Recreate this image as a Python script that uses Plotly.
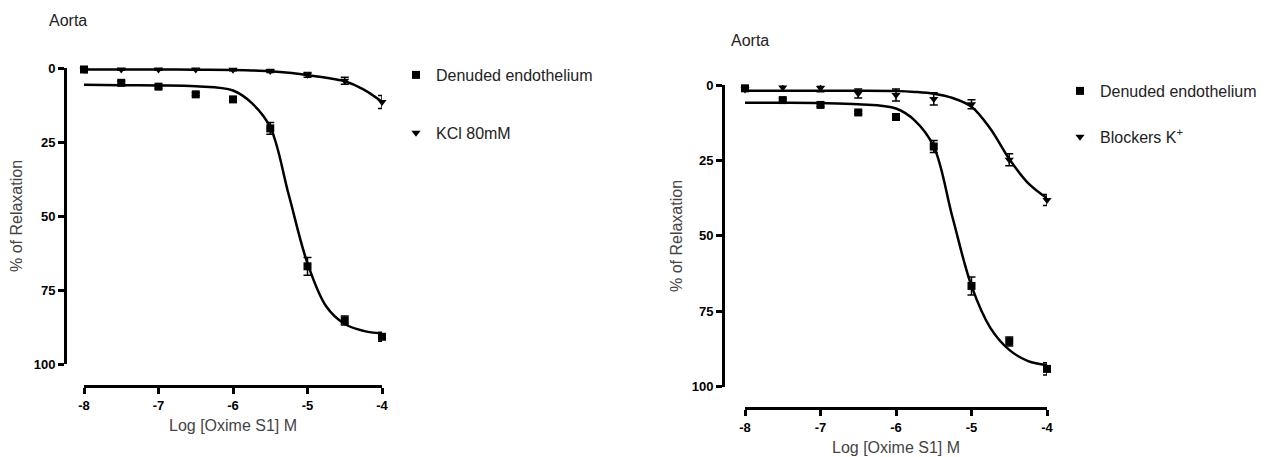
import plotly.graph_objects as go

# ---------------- data ----------------
log_conc = [-8, -7.5, -7, -6.5, -6, -5.5, -5, -4.5, -4]

# Left panel
denuded_left = [0.5, 5.0, 6.3, 8.9, 10.6, 20.4, 67.0, 85.3, 90.8]
denuded_left_err = [1.0, 0.5, 0.5, 0.5, 0.5, 2.0, 3.0, 1.5, 1.5]
kcl_80mm = [0.6, 0.5, 0.5, 0.5, 0.6, 1.0, 2.3, 4.3, 11.5]
kcl_80mm_err = [0.5, 0.3, 0.3, 0.3, 0.3, 0.5, 0.8, 1.2, 2.2]

# Right panel
denuded_right = [1.1, 5.0, 6.6, 9.1, 10.6, 20.4, 66.6, 85.0, 94.1]
denuded_right_err = [0.5, 0.5, 0.5, 0.5, 0.5, 2.0, 3.0, 1.5, 2.0]
blockers_k = [1.5, 0.8, 1.0, 2.8, 3.3, 4.6, 6.4, 24.8, 38.1]
blockers_k_err = [0.5, 1.2, 1.2, 1.5, 2.0, 2.0, 1.5, 2.0, 1.8]

# Fitted curves
fit_x = [-8, -7.5, -7, -6.5, -6, -5.75, -5.5, -5.25, -5, -4.75, -4.5, -4.25, -4]
fit_denuded_left = [5.7, 5.8, 5.9, 6.2, 7.6, 11.8, 20.0, 43.0, 66.0, 80.5, 86.5, 88.8, 89.7]
fit_kcl_80mm = [0.5, 0.5, 0.5, 0.55, 0.7, 0.85, 1.1, 1.6, 2.4, 3.3, 4.5, 7.2, 11.4]
fit_denuded_right = [5.9, 5.9, 6.0, 6.4, 7.8, 11.8, 20.4, 44.0, 66.6, 80.5, 87.8, 91.5, 92.8]
fit_blockers_k = [1.9, 1.9, 1.9, 1.9, 2.0, 2.3, 2.9, 4.3, 7.2, 14.5, 24.5, 32.5, 37.5]

x_ticks = [-8, -7, -6, -5, -4]
x_tick_text = ["-8", "-7", "-6", "-5", "-4"]
y_ticks = [0, 25, 50, 75, 100]
y_tick_text = ["0", "25", "50", "75", "100"]

panel_title = "Aorta"
x_title = "Log [Oxime S1] M"
y_title = "% of Relaxation"
name_denuded = "Denuded endothelium"
name_kcl = "KCl 80mM"
name_blockers = "Blockers K<sup>+</sup>"

# ---------------- figure ----------------
W, H = 1271, 457
BLACK = "#000000"
FONT = "Liberation Sans, Arial, sans-serif"
fig = go.Figure()

def px_x(p):
    return p / W

def px_y(p):
    return 1 - p / H

def add_points(x, y, err, symbol, name, xa, ya, legend):
    fig.add_trace(go.Scatter(
        x=x, y=y, mode="markers", name=name,
        marker=dict(symbol=symbol, size=8, color=BLACK),
        error_y=dict(type="data", array=err, visible=True, color=BLACK,
                     thickness=1.5, width=4),
        xaxis=xa, yaxis=ya, legend=legend, legendgroup=name + legend,
        cliponaxis=False, showlegend=True,
    ))

def add_fit(x, y, xa, ya):
    fig.add_trace(go.Scatter(
        x=x, y=y, mode="lines", line=dict(color=BLACK, width=2.5, shape="spline", smoothing=1.0),
        xaxis=xa, yaxis=ya, showlegend=False, cliponaxis=False, hoverinfo="skip",
    ))

add_fit(fit_x, fit_denuded_left, "x", "y")
add_fit(fit_x, fit_kcl_80mm, "x", "y")
add_points(log_conc, denuded_left, denuded_left_err, "square", name_denuded, "x", "y", "legend")
add_points(log_conc, kcl_80mm, kcl_80mm_err, "triangle-down", name_kcl, "x", "y", "legend")

add_fit(fit_x, fit_denuded_right, "x2", "y2")
add_fit(fit_x, fit_blockers_k, "x2", "y2")
add_points(log_conc, denuded_right, denuded_right_err, "square", name_denuded, "x2", "y2", "legend2")
add_points(log_conc, blockers_k, blockers_k_err, "triangle-down", name_blockers, "x2", "y2", "legend2")

tickfont = dict(family=FONT, size=13, color=BLACK, weight="bold")

def xaxis_cfg(domain, pos):
    return dict(domain=domain, range=[-8, -4], anchor="free", position=pos,
                tickmode="array", tickvals=x_ticks, ticktext=x_tick_text,
                ticks="outside", ticklen=6, tickwidth=2.5, tickcolor=BLACK,
                showline=True, linecolor=BLACK, linewidth=3, automargin=False,
                showgrid=False, zeroline=False, tickfont=tickfont, fixedrange=True)

def yaxis_cfg(domain, pos):
    return dict(domain=domain, range=[100, 0], anchor="free", position=pos,
                tickmode="array", tickvals=y_ticks, ticktext=y_tick_text,
                ticks="outside", ticklen=6, tickwidth=2.5, tickcolor=BLACK,
                showline=True, linecolor=BLACK, linewidth=3, automargin=False,
                showgrid=False, zeroline=False, tickfont=tickfont, fixedrange=True)

fig.update_layout(
    width=W, height=H,
    margin=dict(l=0, r=0, t=0, b=0, pad=0, autoexpand=False),
    paper_bgcolor="white", plot_bgcolor="white",
    font=dict(family=FONT, color="#333333"),
    xaxis=xaxis_cfg([px_x(84), px_x(382)], px_y(386)),
    yaxis=yaxis_cfg([px_y(364), px_y(68)], px_x(65)),
    xaxis2=xaxis_cfg([px_x(745), px_x(1047)], px_y(408)),
    yaxis2=yaxis_cfg([px_y(386.7), px_y(85)], px_x(723)),
    legend=dict(x=px_x(396), y=px_y(58), xanchor="left", yanchor="top",
                font=dict(size=16, color="#222222", family=FONT), tracegroupgap=34,
                bgcolor="rgba(0,0,0,0)", itemclick=False),
    legend2=dict(x=px_x(1060), y=px_y(74), xanchor="left", yanchor="top",
                 font=dict(size=16, color="#222222", family=FONT), tracegroupgap=22,
                 bgcolor="rgba(0,0,0,0)", itemclick=False),
    showlegend=True,
)

def text(x, y, s, size=16, angle=0, xanchor="center", color="#444444"):
    fig.add_annotation(x=x, y=y, xref="paper", yref="paper", text=s, showarrow=False,
                       textangle=angle, xanchor=xanchor, yanchor="middle",
                       font=dict(size=size, color=color, family=FONT))

text(px_x(47), px_y(21), panel_title, size=16, xanchor="left", color="#222222")
text(px_x(729), px_y(41), panel_title, size=16, xanchor="left", color="#222222")
text(px_x(233), px_y(425), x_title)
text(px_x(896), px_y(447), x_title)
text(px_x(16), px_y(216), y_title, angle=-90)
text(px_x(676), px_y(236), y_title, angle=-90)

fig.write_html(
    "out.html",
    config={"displayModeBar": False},
    post_script="document.body.style.margin='0px';document.body.style.overflow='hidden';",
)
